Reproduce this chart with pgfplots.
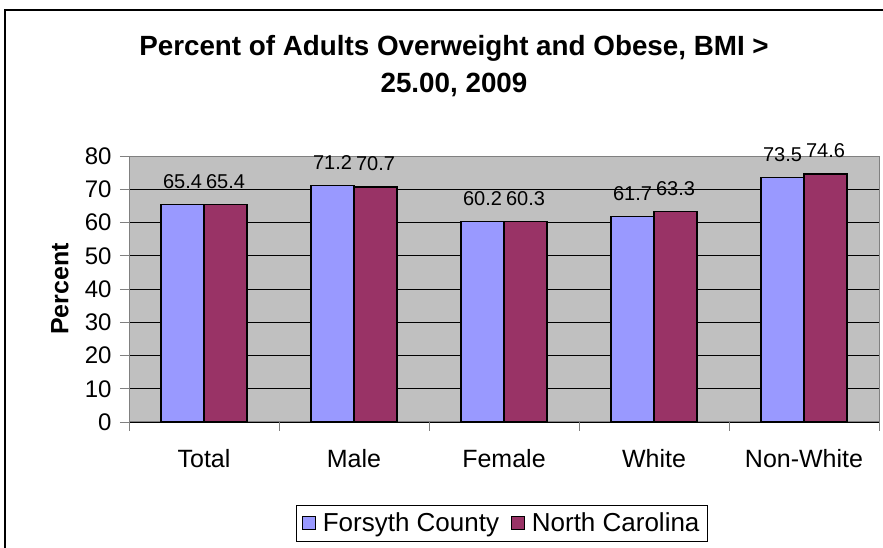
\documentclass[border=0pt]{standalone}
\usepackage{fontspec}
\setmainfont{Liberation Sans}
\usepackage{pgfplots}
\pgfplotsset{compat=1.18}
\definecolor{forsyth}{HTML}{9999FF}
\definecolor{ncar}{HTML}{993366}
\definecolor{plotbg}{HTML}{C0C0C0}
\definecolor{axisgray}{HTML}{808080}

\begin{document}
\begin{tikzpicture}[x=1pt,y=1pt]
\useasboundingbox (0,0) rectangle (883,548);
\draw[line width=1.2pt] (5,-5) -- (5,538) -- (890,538);
\node[font=\fontsize{27.8}{37}\selectfont\bfseries, align=center] at (454,482)
  {Percent of Adults Overweight and Obese, BMI >\\25.00, 2009};
\begin{axis}[
    at={(129pt,126pt)}, anchor=south west,
    scale only axis, width=750pt, height=266pt,
    ybar=0pt, bar width=43pt,
    xmin=-0.5, xmax=4.5, ymin=0, ymax=80,
    xtick={-0.5,0.5,1.5,2.5,3.5,4.5}, xticklabels={},
    extra x ticks={0,1,2,3,4},
    extra x tick labels={Total,Male,Female,White,Non-White},
    extra x tick style={major tick length=0pt},
    ytick={0,10,...,80},
    xtick pos=lower, ytick pos=left,
    tick align=outside, major tick length=9pt,
    tick style={axisgray, line width=0.8pt},
    axis line style={axisgray, line width=1pt},
    ymajorgrids=true,
    major grid style={black, line width=0.8pt},
    axis background/.style={fill=plotbg},
    /pgf/number format/assume math mode=true,
    tick label style={font=\fontsize{24}{27}\selectfont},
    xticklabel style={font=\fontsize{25}{28}\selectfont, yshift=-24pt},
    yticklabel style={xshift=-5pt},
    ylabel={Percent},
    every axis y label/.style={at={(axis description cs:0,0.5)}, xshift=-69pt,
      rotate=90, anchor=center, font=\fontsize{25}{28}\selectfont\bfseries},
    nodes near coords,
    nodes near coords style={font=\fontsize{20}{22}\selectfont, anchor=base,
      yshift=16pt, /pgf/number format/fixed, /pgf/number format/fixed zerofill,
      /pgf/number format/precision=1},
    legend style={at={(0.497,-0.38)}, anchor=center, legend columns=2,
      draw=black, line width=0.8pt, font=\fontsize{26}{29}\selectfont,
      inner sep=6pt,
      /tikz/every odd column/.append style={column sep=5pt},
      /tikz/every even column/.append style={column sep=10pt}},
    legend image code/.code={\draw[#1, line width=0.8pt] (0pt,-6pt) rectangle (13pt,7pt);},
    legend cell align=left,
]
\addplot[draw=black, line width=1.2pt, fill=forsyth]
    coordinates {(0,65.4) (1,71.2) (2,60.2) (3,61.7) (4,73.5)};
\addlegendentry{Forsyth County}
\addplot[draw=black, line width=1.2pt, fill=ncar]
    coordinates {(0,65.4) (1,70.7) (2,60.3) (3,63.3) (4,74.6)};
\addlegendentry{North Carolina}
\end{axis}
\end{tikzpicture}
\end{document}
